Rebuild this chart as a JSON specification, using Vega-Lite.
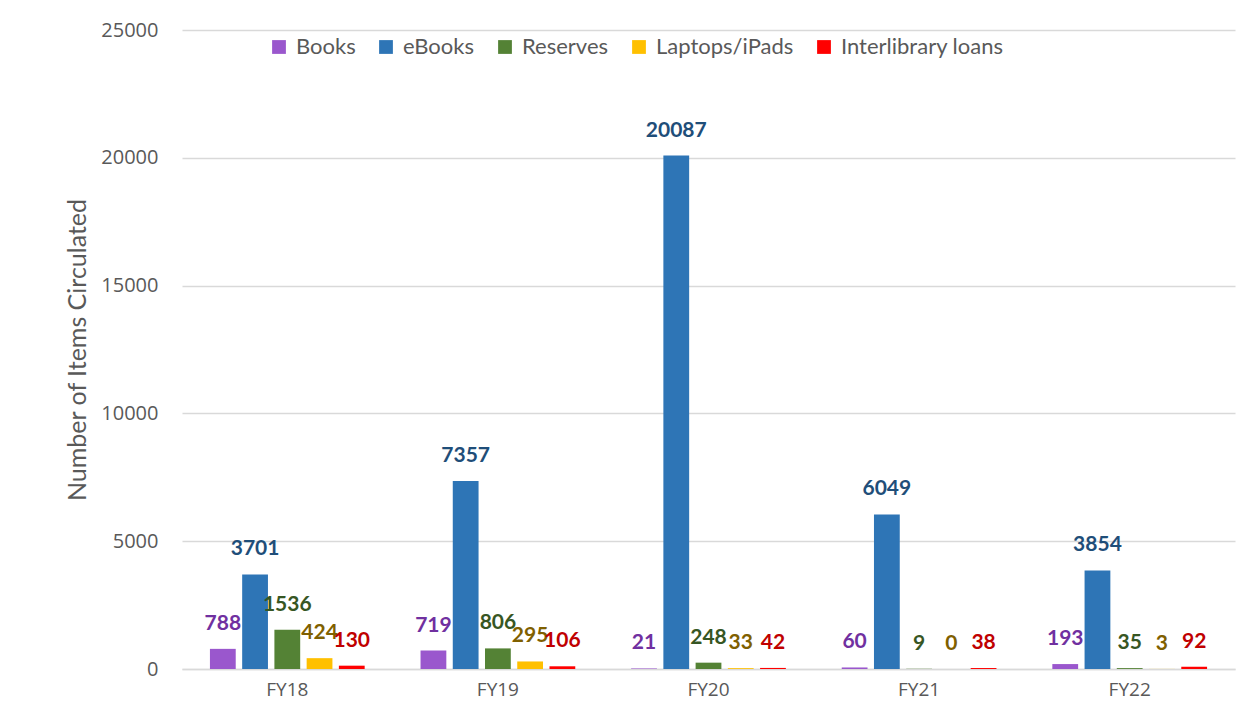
{
  "$schema": "https://vega.github.io/schema/vega-lite/v6.json",
  "width": 1053,
  "height": 639,
  "autosize": {"type": "none"},
  "padding": {"left": 182, "top": 30, "right": 22, "bottom": 37},
  "background": "white",
  "config": {"view": {"stroke": null}, "font": "Lato"},
  "data": {
    "values": [
      {"Year": "FY18", "Series": "Books", "Count": 788},
      {"Year": "FY18", "Series": "eBooks", "Count": 3701},
      {"Year": "FY18", "Series": "Reserves", "Count": 1536},
      {"Year": "FY18", "Series": "Laptops/iPads", "Count": 424},
      {"Year": "FY18", "Series": "Interlibrary loans", "Count": 130},
      {"Year": "FY19", "Series": "Books", "Count": 719},
      {"Year": "FY19", "Series": "eBooks", "Count": 7357},
      {"Year": "FY19", "Series": "Reserves", "Count": 806},
      {"Year": "FY19", "Series": "Laptops/iPads", "Count": 295},
      {"Year": "FY19", "Series": "Interlibrary loans", "Count": 106},
      {"Year": "FY20", "Series": "Books", "Count": 21},
      {"Year": "FY20", "Series": "eBooks", "Count": 20087},
      {"Year": "FY20", "Series": "Reserves", "Count": 248},
      {"Year": "FY20", "Series": "Laptops/iPads", "Count": 33},
      {"Year": "FY20", "Series": "Interlibrary loans", "Count": 42},
      {"Year": "FY21", "Series": "Books", "Count": 60},
      {"Year": "FY21", "Series": "eBooks", "Count": 6049},
      {"Year": "FY21", "Series": "Reserves", "Count": 9},
      {"Year": "FY21", "Series": "Laptops/iPads", "Count": 0},
      {"Year": "FY21", "Series": "Interlibrary loans", "Count": 38},
      {"Year": "FY22", "Series": "Books", "Count": 193},
      {"Year": "FY22", "Series": "eBooks", "Count": 3854},
      {"Year": "FY22", "Series": "Reserves", "Count": 35},
      {"Year": "FY22", "Series": "Laptops/iPads", "Count": 3},
      {"Year": "FY22", "Series": "Interlibrary loans", "Count": 92}
    ]
  },
  "encoding": {
    "x": {
      "field": "Year",
      "type": "nominal",
      "sort": ["FY18", "FY19", "FY20", "FY21", "FY22"],
      "scale": {"paddingInner": 0.25, "paddingOuter": 0.125},
      "axis": {
        "title": null,
        "labelAngle": 0,
        "labelFont": "Open Sans",
        "labelFontSize": 19,
        "labelColor": "#595959",
        "labelPadding": 11,
        "ticks": false,
        "tickSize": 0,
        "domain": true,
        "domainColor": "#d9d9d9",
        "domainWidth": 1.5
      }
    },
    "xOffset": {
      "field": "Series",
      "type": "nominal",
      "sort": ["Books", "eBooks", "Reserves", "Laptops/iPads", "Interlibrary loans"],
      "scale": {"paddingInner": 0.2, "paddingOuter": 0.05}
    },
    "y": {
      "field": "Count",
      "type": "quantitative",
      "scale": {"domain": [0, 25000], "nice": false},
      "axis": {
        "values": [0, 5000, 10000, 15000, 20000, 25000],
        "format": "d",
        "grid": true,
        "gridColor": "#d9d9d9",
        "gridWidth": 1.5,
        "domain": false,
        "ticks": false,
        "tickSize": 0,
        "labelFont": "Open Sans",
        "labelFontSize": 20,
        "labelColor": "#595959",
        "labelPadding": 24,
        "title": "Number of Items Circulated",
        "titleFont": "Lato",
        "titleFontSize": 25,
        "titleFontWeight": "normal",
        "titleColor": "#595959",
        "titlePadding": 10
      }
    }
  },
  "layer": [
    {
      "mark": {"type": "bar"},
      "encoding": {
        "color": {
          "field": "Series",
          "type": "nominal",
          "scale": {
            "domain": ["Books", "eBooks", "Reserves", "Laptops/iPads", "Interlibrary loans"],
            "range": ["#9a57cd", "#2e75b6", "#548235", "#ffc000", "#ff0000"]
          },
          "legend": {
            "title": null,
            "orient": "none",
            "legendX": 86,
            "legendY": 6,
            "direction": "horizontal",
            "columns": 5,
            "symbolType": "square",
            "symbolSize": 190,
            "symbolStrokeWidth": 0,
            "labelFont": "Lato",
            "labelFontSize": 22,
            "labelColor": "#595959",
            "labelOffset": 6,
            "labelLimit": 400,
            "columnPadding": 19,
            "padding": 0
          }
        }
      }
    },
    {
      "mark": {"type": "text", "font": "Lato", "fontWeight": "bold", "fontSize": 21, "baseline": "middle", "dy": -25},
      "encoding": {
        "text": {"field": "Count", "type": "quantitative"},
        "color": {
          "field": "Series",
          "type": "nominal",
          "scale": {
            "domain": ["Books", "eBooks", "Reserves", "Laptops/iPads", "Interlibrary loans"],
            "range": ["#7030a0", "#1f4e79", "#375623", "#7f6000", "#c00000"]
          },
          "legend": null
        }
      }
    }
  ],
  "resolve": {"scale": {"color": "independent"}}
}
